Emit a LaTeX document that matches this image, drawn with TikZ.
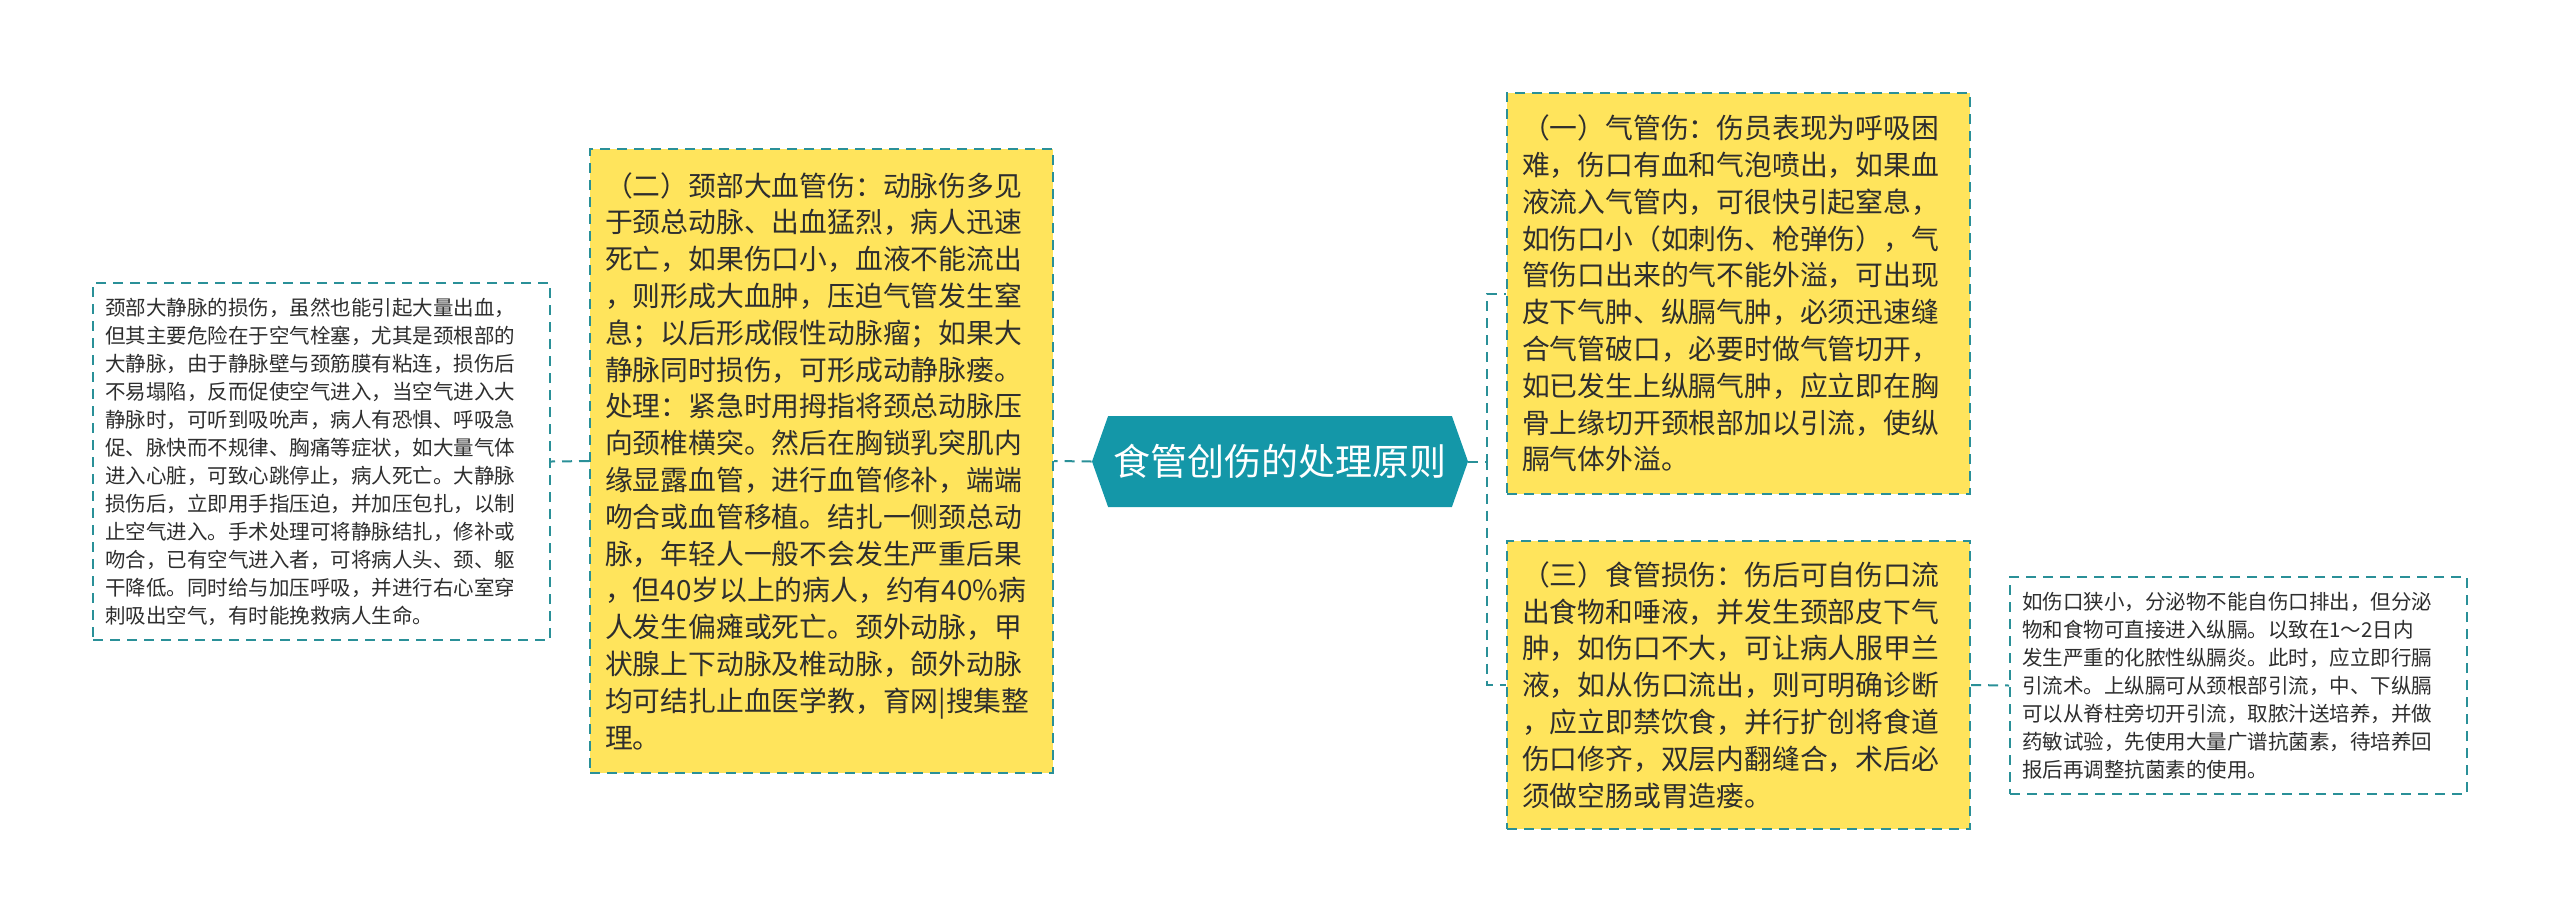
\documentclass[tikz,border=0pt]{standalone}
\usepackage{fontspec}
\setmainfont{Noto Sans CJK SC}
\usepackage{xcolor}
\usepackage{tikz}
\usetikzlibrary{shapes.symbols}
\definecolor{topicyellow}{HTML}{FFE45C}
\definecolor{linkteal}{HTML}{2A9098}
\definecolor{mainteal}{HTML}{1497A8}
\definecolor{bodytext}{HTML}{2E2E2E}

\begin{document}
\begin{tikzpicture}[
        x=0.5pt, y=-0.5pt,
        connect/.style={draw=linkteal, line width=1pt, dash pattern=on 5pt off 3.5pt},
        topic/.style={connect, fill=topicyellow, text=bodytext, align=left,
            font=\fontsize{13.9pt}{18.4pt}\selectfont,
            inner xsep=7.5pt, inner ysep=0pt, text width=216.5pt},
        leaf/.style={connect, fill=white, text=bodytext, align=left,
            font=\fontsize{10.25pt}{14pt}\selectfont,
            inner xsep=6pt, inner ysep=0pt, text width=216.5pt},
        maintopic/.style={signal, signal to=west and east, signal pointer angle=141,
            fill=mainteal, text=white, font=\fontsize{18.5pt}{22pt}\selectfont,
            minimum width=188pt, minimum height=45.5pt, inner sep=0pt}
    ]

    %=== Canvas ===%
    \useasboundingbox (0,0) rectangle (2560,923);

    %=== Centre ===%
    \node[maintopic] (mainTopic) at (1280,461.5) {食管创伤的处理原则};

    %=== Left branch ===%
    \node[topic, minimum width=231.5pt, minimum height=312pt] (neckVessel) at (821.5,461) {%
        （二）颈部大血管伤：动脉伤多见\\
        于颈总动脉、出血猛烈，病人迅速\\
        死亡，如果伤口小，血液不能流出\\
        ，则形成大血肿，压迫气管发生窒\\
        息；以后形成假性动脉瘤；如果大\\
        静脉同时损伤，可形成动静脉瘘。\\
        处理：紧急时用拇指将颈总动脉压\\
        向颈椎横突。然后在胸锁乳突肌内\\
        缘显露血管，进行血管修补，端端\\
        吻合或血管移植。结扎一侧颈总动\\
        脉，年轻人一般不会发生严重后果\\
        ，但40岁以上的病人，约有40\%病\\
        人发生偏瘫或死亡。颈外动脉，甲\\
        状腺上下动脉及椎动脉，颌外动脉\\
        均可结扎止血医学教，育网|搜集整\\
        理。};

    \node[leaf, minimum width=228.5pt, minimum height=178.5pt] (neckVein) at (321.5,461.5) {%
        颈部大静脉的损伤，虽然也能引起大量出血，\\
        但其主要危险在于空气栓塞，尤其是颈根部的\\
        大静脉，由于静脉壁与颈筋膜有粘连，损伤后\\
        不易塌陷，反而促使空气进入，当空气进入大\\
        静脉时，可听到吸吮声，病人有恐惧、呼吸急\\
        促、脉快而不规律、胸痛等症状，如大量气体\\
        进入心脏，可致心跳停止，病人死亡。大静脉\\
        损伤后，立即用手指压迫，并加压包扎，以制\\
        止空气进入。手术处理可将静脉结扎，修补或\\
        吻合，已有空气进入者，可将病人头、颈、躯\\
        干降低。同时给与加压呼吸，并进行右心室穿\\
        刺吸出空气，有时能挽救病人生命。};

    %=== Right branch ===%
    \node[topic, minimum width=231.5pt, minimum height=200.5pt] (trachea) at (1738.5,293.5) {%
        （一）气管伤：伤员表现为呼吸困\\
        难，伤口有血和气泡喷出，如果血\\
        液流入气管内，可很快引起窒息，\\
        如伤口小（如刺伤、枪弹伤），气\\
        管伤口出来的气不能外溢，可出现\\
        皮下气肿、纵膈气肿，必须迅速缝\\
        合气管破口，必要时做气管切开，\\
        如已发生上纵膈气肿，应立即在胸\\
        骨上缘切开颈根部加以引流，使纵\\
        膈气体外溢。};

    \node[topic, minimum width=231.5pt, minimum height=144pt] (esophagus) at (1738.5,685) {%
        （三）食管损伤：伤后可自伤口流\\
        出食物和唾液，并发生颈部皮下气\\
        肿，如伤口不大，可让病人服甲兰\\
        液，如从伤口流出，则可明确诊断\\
        ，应立即禁饮食，并行扩创将食道\\
        伤口修齐，双层内翻缝合，术后必\\
        须做空肠或胃造瘘。};

    \node[leaf, minimum width=228.5pt, minimum height=108.5pt] (drainage) at (2238.5,685.5) {%
        如伤口狭小，分泌物不能自伤口排出，但分泌\\
        物和食物可直接进入纵膈。以致在1～2日内\\
        发生严重的化脓性纵膈炎。此时，应立即行膈\\
        引流术。上纵膈可从颈根部引流，中、下纵膈\\
        可以从脊柱旁切开引流，取脓汁送培养，并做\\
        药敏试验，先使用大量广谱抗菌素，待培养回\\
        报后再调整抗菌素的使用。};

    %=== Connectors ===%
    \draw[connect] (mainTopic.west) -- (neckVessel.east);
    \draw[connect] (neckVessel.west) -- (neckVein.east);
    \draw[connect] (mainTopic.east) -- ++(19,0) |- (trachea.west);
    \draw[connect] (mainTopic.east) -- ++(19,0) |- (esophagus.west);
    \draw[connect] (esophagus.east) -- (drainage.west);

\end{tikzpicture}
\end{document}
